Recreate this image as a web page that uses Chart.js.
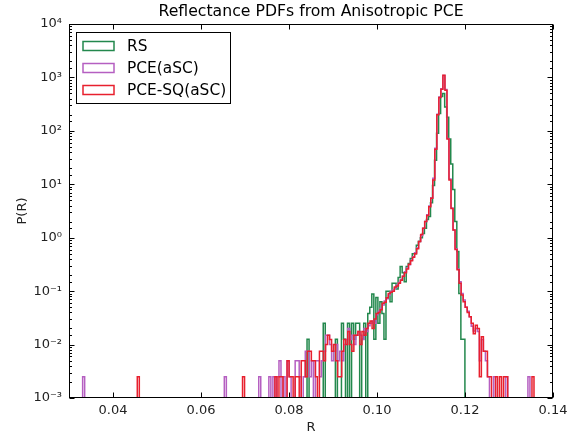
<!DOCTYPE html>
<html>
<head>
<meta charset="utf-8">
<script src="https://cdn.jsdelivr.net/npm/chart.js@4"></script>
<style>
  html, body { margin: 0; padding: 0; background: #fff; }
</style>
</head>
<body>
<canvas id="pdfChart" width="576" height="434"></canvas>
<script>
// histogram bins: left edge of bin i is start + i * binWidth
const binWidth = 0.00046;
const rsStart = 0.0841;
const pceStart = 0.0331;

// probability densities per bin (0 = empty bin)
const rsDensity = [
    0.0126, 0, 0, 0, 0, 0, 0, 0, 0.025, 0,
    0, 0, 0, 0, 0.0126, 0, 0, 0.025, 0.0126, 0,
    0.025, 0, 0.025, 0.0126, 0.025, 0.025, 0, 0.0126, 0.025, 0,
    0.038, 0.05, 0.088, 0.0126, 0.076, 0.025, 0.063, 0.038, 0.0126, 0.1,
    0.1, 0.063, 0.14, 0.14, 0.11, 0.18, 0.29, 0.22, 0.15, 0.29,
    0.33, 0.41, 0.5, 0.5, 0.72, 0.85, 1.0, 1.2, 1.5, 2.2,
    2.5, 4.5, 9.5, 28, 90, 210, 440, 500, 280, 180,
    70, 24, 8, 2, 0.55, 0.09, 0.0126, 0.0126
];

const pceDensity = [
    0.0025, 0, 0, 0, 0, 0, 0, 0, 0, 0,
    0, 0, 0, 0, 0, 0, 0, 0, 0, 0,
    0, 0, 0, 0, 0, 0, 0, 0, 0, 0,
    0, 0, 0, 0, 0, 0, 0, 0, 0, 0,
    0, 0, 0, 0, 0, 0, 0, 0, 0, 0,
    0, 0, 0, 0, 0, 0, 0, 0, 0, 0,
    0, 0, 0, 0, 0, 0, 0, 0, 0, 0,
    0.0025, 0, 0, 0, 0, 0, 0, 0, 0, 0,
    0, 0, 0, 0, 0, 0, 0, 0.0025, 0, 0,
    0, 0, 0.0025, 0, 0.0025, 0, 0.0025, 0.005, 0, 0.0025,
    0, 0.005, 0.0025, 0, 0, 0.005, 0.005, 0.0025, 0, 0.0025,
    0.0075, 0.0075, 0.0025, 0.005, 0, 0.005, 0.005, 0.0025, 0.005, 0.0075,
    0.015, 0.015, 0.01, 0.005, 0.0075, 0.01, 0.005, 0.0075, 0.005, 0.01,
    0.0125, 0.02, 0.0125, 0.015, 0.01, 0.015, 0.0175, 0.015, 0.0125, 0.02,
    0.0175, 0.0225, 0.025, 0.0275, 0.025, 0.036, 0.042, 0.048, 0.055, 0.065,
    0.072, 0.085, 0.098, 0.105, 0.115, 0.13, 0.145, 0.165, 0.19, 0.23,
    0.27, 0.31, 0.38, 0.44, 0.52, 0.64, 0.85, 1.1, 1.5, 2.0,
    2.7, 3.9, 5.6, 13, 47, 205, 430, 610, 1080, 590,
    72, 12.5, 3.6, 1.4, 0.62, 0.26, 0.15, 0.09, 0.068, 0.05,
    0.042, 0.033, 0.022, 0.018, 0.02, 0.0175, 0.005, 0.0125, 0.0075, 0.005,
    0.0025, 0, 0, 0.0025, 0, 0, 0, 0, 0, 0.0025,
    0, 0, 0, 0, 0, 0, 0, 0, 0, 0,
    0.0025
];

const pceSqDensity = [
    0, 0, 0, 0, 0, 0, 0, 0, 0, 0,
    0, 0, 0, 0, 0, 0, 0, 0, 0, 0,
    0, 0, 0, 0, 0, 0, 0, 0.0025, 0, 0,
    0, 0, 0, 0, 0, 0, 0, 0, 0, 0,
    0, 0, 0, 0, 0, 0, 0, 0, 0, 0,
    0, 0, 0, 0, 0, 0, 0, 0, 0, 0,
    0, 0, 0, 0, 0, 0, 0, 0, 0, 0,
    0, 0, 0, 0, 0, 0, 0, 0, 0, 0.0025,
    0, 0, 0, 0, 0, 0, 0, 0, 0, 0,
    0, 0, 0, 0, 0, 0.0025, 0, 0.0025, 0.0025, 0,
    0, 0.005, 0.0025, 0.0025, 0, 0.0025, 0.0025, 0, 0.005, 0.005,
    0.0025, 0.0075, 0.0075, 0.005, 0.005, 0.0025, 0, 0.0075, 0.0075, 0.005,
    0.01, 0.015, 0.0125, 0.0075, 0.01, 0.005, 0.0025, 0.0025, 0.0075, 0.0125,
    0.01, 0.0175, 0.01, 0.0075, 0.015, 0.015, 0.0175, 0.01, 0.0175, 0.015,
    0.02, 0.025, 0.0275, 0.02, 0.03, 0.038, 0.04, 0.045, 0.059, 0.062,
    0.075, 0.09, 0.095, 0.1, 0.12, 0.125, 0.14, 0.16, 0.19, 0.22,
    0.26, 0.32, 0.37, 0.43, 0.5, 0.62, 0.85, 1.15, 1.5, 2.0,
    2.6, 3.8, 5.5, 12, 45, 200, 420, 600, 1100, 575,
    70, 12, 3.5, 1.4, 0.6, 0.25, 0.14, 0.085, 0.063, 0.05,
    0.04, 0.033, 0.025, 0.016, 0.023, 0.02, 0.0025, 0.014, 0.0075, 0.0075,
    0.0025, 0.0025, 0, 0, 0.0025, 0, 0.0025, 0, 0.0025, 0.0025,
    0, 0, 0, 0, 0, 0, 0, 0, 0, 0,
    0, 0, 0.0025
];

const seriesLabels = ["RS", "PCE(aSC)", "PCE-SQ(aSC)"];
const seriesColors = ["#23884d", "#b55fc1", "#e8202e"];

const xTicks = [0.04, 0.06, 0.08, 0.10, 0.12, 0.14];
const xTickLabels = ["0.04", "0.06", "0.08", "0.10", "0.12", "0.14"];
const yTicks = [1e-3, 1e-2, 1e-1, 1, 10, 100, 1000, 10000];
const yTickLabels = ["10\u207B\u00B3", "10\u207B\u00B2", "10\u207B\u00B9", "10\u2070",
                     "10\u00B9", "10\u00B2", "10\u00B3", "10\u2074"];

// empty bins go below the axis so the outline drops to the bottom edge
const floorValue = 1e-5;

function stepPoints(start, values) {
    const pts = [{ x: start, y: floorValue }];
    values.forEach(function (v, i) {
        pts.push({ x: start + i * binWidth, y: v > 0 ? v : floorValue });
    });
    pts.push({ x: start + values.length * binWidth, y: floorValue });
    return pts;
}

function tickIndex(list, v) {
    for (let i = 0; i < list.length; i++) {
        if (Math.abs(v - list[i]) < list[i] * 1e-6) return i;
    }
    return -1;
}

// frame and inward ticks, matplotlib style
const frameTicks = {
    id: "frameTicks",
    afterDatasetsDraw(chart) {
        const { ctx, chartArea: a, scales: { x, y } } = chart;
        const l = Math.round(a.left) + 0.5, r = Math.round(a.right) - 0.5;
        const t = Math.round(a.top) + 0.5, b = Math.round(a.bottom) - 0.5;
        ctx.save();
        ctx.strokeStyle = "#000";
        ctx.lineWidth = 1;
        ctx.beginPath();
        x.ticks.forEach(function (tk) {
            const px = Math.round(x.getPixelForValue(tk.value)) + 0.5;
            ctx.moveTo(px, b); ctx.lineTo(px, b - 5);
            ctx.moveTo(px, t); ctx.lineTo(px, t + 5);
        });
        y.ticks.forEach(function (tk) {
            const py = Math.round(y.getPixelForValue(tk.value)) + 0.5;
            const len = tickIndex(yTicks, tk.value) >= 0 ? 5 : 2.5;
            ctx.moveTo(l, py); ctx.lineTo(l + len, py);
            ctx.moveTo(r, py); ctx.lineTo(r - len, py);
        });
        ctx.stroke();
        ctx.strokeRect(l, t, r - l, b - t);
        ctx.restore();
    }
};

// legend box in the upper left corner of the axes
const boxLegend = {
    id: "boxLegend",
    afterDraw(chart) {
        const ctx = chart.ctx;
        ctx.save();
        ctx.fillStyle = "#fff";
        ctx.fillRect(76.5, 32.5, 154, 71);
        ctx.strokeStyle = "#000";
        ctx.lineWidth = 1;
        ctx.strokeRect(76.5, 32.5, 154, 71);
        ctx.font = "15.4px 'DejaVu Sans'";
        ctx.textBaseline = "middle";
        seriesLabels.forEach(function (label, i) {
            const cy = 46 + i * 22;
            ctx.strokeStyle = seriesColors[i];
            ctx.lineWidth = 1.5;
            ctx.strokeRect(83, cy - 4.5, 31, 9);
            ctx.fillStyle = "#000";
            ctx.fillText(label, 127, cy + 1);
        });
        ctx.restore();
    }
};

const seriesData = [
    stepPoints(rsStart, rsDensity),
    stepPoints(pceStart, pceDensity),
    stepPoints(pceStart, pceSqDensity)
];

const axisFont = { family: "DejaVu Sans", size: 13 };

new Chart(document.getElementById("pdfChart").getContext("2d"), {
    type: "line",
    data: {
        datasets: seriesLabels.map(function (label, i) {
            return {
                label: label,
                data: seriesData[i],
                borderColor: seriesColors[i],
                borderWidth: 1.5,
                pointRadius: 0,
                fill: false,
                stepped: true,
                tension: 0,
                order: 3 - i
            };
        })
    },
    options: {
        responsive: false,
        animation: false,
        layout: { padding: { left: 0, right: 23, top: 0, bottom: 0 } },
        plugins: {
            legend: { display: false },
            tooltip: { enabled: false },
            title: {
                display: true,
                text: "Reflectance PDFs from Anisotropic PCE",
                fullSize: false,
                color: "#000",
                font: { family: "DejaVu Sans", size: 15.7, weight: "normal", lineHeight: 1.2 },
                padding: { top: 2.5, bottom: 2.6 }
            }
        },
        scales: {
            x: {
                type: "linear",
                min: 0.03,
                max: 0.14,
                afterBuildTicks: function (s) {
                    s.ticks = xTicks.map(function (v) { return { value: v }; });
                },
                afterFit: function (s) { s.height = 36; },
                grid: { display: false, drawTicks: false },
                border: { display: false },
                ticks: {
                    autoSkip: false,
                    maxRotation: 0,
                    padding: 5,
                    color: "#222",
                    font: axisFont,
                    callback: function (v) {
                        const i = tickIndex(xTicks, v);
                        return i >= 0 ? xTickLabels[i] : "";
                    }
                },
                title: {
                    display: true,
                    text: "R",
                    color: "#222",
                    font: { family: "DejaVu Sans", size: 13, lineHeight: 1 },
                    padding: { top: 0, bottom: 0 }
                }
            },
            y: {
                type: "logarithmic",
                min: 1e-3,
                max: 1e4,
                afterFit: function (s) { s.width = 69; },
                grid: { display: false, drawTicks: false },
                border: { display: false },
                ticks: {
                    autoSkip: false,
                    padding: 7,
                    color: "#222",
                    font: axisFont,
                    callback: function (v) {
                        const i = tickIndex(yTicks, v);
                        return i >= 0 ? yTickLabels[i] : "";
                    }
                },
                title: {
                    display: true,
                    text: "P(R)",
                    color: "#222",
                    font: { family: "DejaVu Sans", size: 13, lineHeight: 1.2 },
                    padding: { top: 15, bottom: 0 }
                }
            }
        }
    },
    plugins: [frameTicks, boxLegend]
});
</script>
</body>
</html>
